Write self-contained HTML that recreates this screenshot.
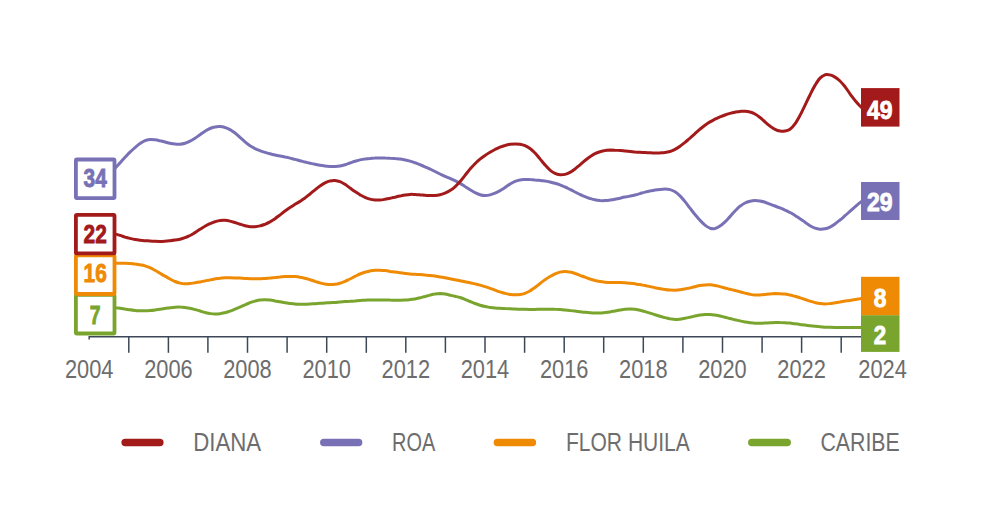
<!DOCTYPE html>
<html><head><meta charset="utf-8"><title>Chart</title>
<style>html,body{margin:0;padding:0;background:#fff;width:1000px;height:530px;overflow:hidden}svg{display:block}</style>
</head><body>
<svg width="1000" height="530" viewBox="0 0 1000 530">
<rect width="1000" height="530" fill="#ffffff"/>
<line x1="89.2" y1="336.8" x2="862" y2="336.8" stroke="#3c4856" stroke-width="1.6"/>
<line x1="89.2" y1="336" x2="89.2" y2="339.5" stroke="#3c4856" stroke-width="1.5"/>
<line x1="128.8" y1="336" x2="128.8" y2="352.8" stroke="#3c4856" stroke-width="1.5"/>
<line x1="168.4" y1="336" x2="168.4" y2="352.8" stroke="#3c4856" stroke-width="1.5"/>
<line x1="207.9" y1="336" x2="207.9" y2="352.8" stroke="#3c4856" stroke-width="1.5"/>
<line x1="247.5" y1="336" x2="247.5" y2="352.8" stroke="#3c4856" stroke-width="1.5"/>
<line x1="287.1" y1="336" x2="287.1" y2="352.8" stroke="#3c4856" stroke-width="1.5"/>
<line x1="326.7" y1="336" x2="326.7" y2="352.8" stroke="#3c4856" stroke-width="1.5"/>
<line x1="366.3" y1="336" x2="366.3" y2="352.8" stroke="#3c4856" stroke-width="1.5"/>
<line x1="405.8" y1="336" x2="405.8" y2="352.8" stroke="#3c4856" stroke-width="1.5"/>
<line x1="445.4" y1="336" x2="445.4" y2="352.8" stroke="#3c4856" stroke-width="1.5"/>
<line x1="485.0" y1="336" x2="485.0" y2="352.8" stroke="#3c4856" stroke-width="1.5"/>
<line x1="524.6" y1="336" x2="524.6" y2="352.8" stroke="#3c4856" stroke-width="1.5"/>
<line x1="564.2" y1="336" x2="564.2" y2="352.8" stroke="#3c4856" stroke-width="1.5"/>
<line x1="603.7" y1="336" x2="603.7" y2="352.8" stroke="#3c4856" stroke-width="1.5"/>
<line x1="643.3" y1="336" x2="643.3" y2="352.8" stroke="#3c4856" stroke-width="1.5"/>
<line x1="682.9" y1="336" x2="682.9" y2="352.8" stroke="#3c4856" stroke-width="1.5"/>
<line x1="722.5" y1="336" x2="722.5" y2="352.8" stroke="#3c4856" stroke-width="1.5"/>
<line x1="762.1" y1="336" x2="762.1" y2="352.8" stroke="#3c4856" stroke-width="1.5"/>
<line x1="801.6" y1="336" x2="801.6" y2="352.8" stroke="#3c4856" stroke-width="1.5"/>
<line x1="841.2" y1="336" x2="841.2" y2="352.8" stroke="#3c4856" stroke-width="1.5"/>
<path d="M100.0,307.5 C100.8,307.5 103.3,307.4 105.0,307.4 C106.7,307.4 108.3,307.4 110.0,307.4 C111.7,307.5 113.3,307.6 115.0,307.7 C116.7,307.8 118.3,308.1 120.0,308.3 C121.7,308.5 123.3,308.8 125.0,309.1 C126.7,309.3 128.3,309.6 130.0,309.8 C131.7,310.1 133.3,310.3 135.0,310.4 C136.7,310.6 138.3,310.7 140.0,310.8 C141.7,310.8 143.3,310.8 145.0,310.8 C146.7,310.7 148.3,310.6 150.0,310.5 C151.7,310.4 153.3,310.2 155.0,309.9 C156.7,309.7 158.3,309.5 160.0,309.2 C161.7,309.0 163.3,308.7 165.0,308.4 C166.7,308.2 168.3,307.9 170.0,307.7 C171.7,307.5 173.3,307.3 175.0,307.2 C176.7,307.1 178.3,307.0 180.0,307.1 C181.7,307.1 183.3,307.2 185.0,307.4 C186.7,307.6 188.3,307.8 190.0,308.2 C191.7,308.5 193.3,309.0 195.0,309.5 C196.7,309.9 198.3,310.5 200.0,311.0 C201.7,311.5 203.3,312.1 205.0,312.5 C206.7,312.9 208.3,313.3 210.0,313.6 C211.7,313.8 213.3,314.0 215.0,314.0 C216.7,314.0 218.3,313.9 220.0,313.7 C221.7,313.5 223.3,313.1 225.0,312.7 C226.7,312.3 228.3,311.8 230.0,311.2 C231.7,310.6 233.3,309.9 235.0,309.2 C236.7,308.5 238.3,307.8 240.0,307.0 C241.7,306.3 243.3,305.5 245.0,304.8 C246.7,304.1 248.3,303.4 250.0,302.7 C251.7,302.1 253.3,301.6 255.0,301.1 C256.7,300.7 258.3,300.3 260.0,300.1 C261.7,299.9 263.3,299.8 265.0,299.8 C266.7,299.8 268.3,299.9 270.0,300.1 C271.7,300.3 273.3,300.6 275.0,300.9 C276.7,301.1 278.3,301.5 280.0,301.8 C281.7,302.1 283.3,302.4 285.0,302.7 C286.7,303.0 288.3,303.3 290.0,303.5 C291.7,303.7 293.3,303.9 295.0,304.0 C296.7,304.2 298.3,304.2 300.0,304.3 C301.7,304.3 303.3,304.3 305.0,304.2 C306.7,304.2 308.3,304.1 310.0,304.0 C311.7,303.9 313.3,303.8 315.0,303.7 C316.7,303.6 318.3,303.4 320.0,303.3 C321.7,303.2 323.3,303.1 325.0,303.0 C326.7,302.9 328.3,302.8 330.0,302.7 C331.7,302.6 333.3,302.5 335.0,302.4 C336.7,302.3 338.3,302.1 340.0,302.0 C341.7,301.9 343.3,301.8 345.0,301.6 C346.7,301.5 348.3,301.4 350.0,301.3 C351.7,301.1 353.3,301.0 355.0,300.9 C356.7,300.7 358.3,300.6 360.0,300.5 C361.7,300.4 363.3,300.3 365.0,300.2 C366.7,300.1 368.3,300.1 370.0,300.0 C371.7,299.9 373.3,299.9 375.0,299.9 C376.7,299.9 378.3,299.9 380.0,299.9 C381.7,299.9 383.3,299.9 385.0,299.9 C386.7,300.0 388.3,300.0 390.0,300.1 C391.7,300.1 393.3,300.2 395.0,300.2 C396.7,300.2 398.3,300.2 400.0,300.2 C401.7,300.2 403.3,300.2 405.0,300.1 C406.7,300.0 408.3,299.8 410.0,299.6 C411.7,299.4 413.3,299.2 415.0,298.9 C416.7,298.6 418.3,298.2 420.0,297.8 C421.7,297.4 423.3,296.9 425.0,296.5 C426.7,296.0 428.3,295.5 430.0,295.1 C431.7,294.7 433.3,294.3 435.0,294.1 C436.7,293.8 438.3,293.6 440.0,293.6 C441.7,293.7 443.3,293.8 445.0,294.1 C446.7,294.4 448.3,294.8 450.0,295.2 C451.7,295.6 453.3,296.0 455.0,296.3 C456.7,296.7 458.3,297.0 460.0,297.5 C461.7,298.0 463.3,298.6 465.0,299.3 C466.7,300.0 468.3,300.8 470.0,301.5 C471.7,302.2 473.3,302.9 475.0,303.5 C476.7,304.2 478.3,304.7 480.0,305.2 C481.7,305.7 483.3,306.1 485.0,306.5 C486.7,306.9 488.3,307.1 490.0,307.4 C491.7,307.6 493.3,307.8 495.0,307.9 C496.7,308.1 498.3,308.2 500.0,308.3 C501.7,308.4 503.3,308.5 505.0,308.6 C506.7,308.6 508.3,308.7 510.0,308.8 C511.7,308.9 513.3,309.0 515.0,309.0 C516.7,309.1 518.3,309.2 520.0,309.2 C521.7,309.3 523.3,309.3 525.0,309.3 C526.7,309.4 528.3,309.4 530.0,309.4 C531.7,309.4 533.3,309.4 535.0,309.4 C536.7,309.4 538.3,309.3 540.0,309.3 C541.7,309.3 543.3,309.2 545.0,309.2 C546.7,309.2 548.3,309.2 550.0,309.2 C551.7,309.2 553.3,309.2 555.0,309.3 C556.7,309.3 558.3,309.4 560.0,309.5 C561.7,309.6 563.3,309.8 565.0,309.9 C566.7,310.1 568.3,310.3 570.0,310.5 C571.7,310.6 573.3,310.9 575.0,311.1 C576.7,311.3 578.3,311.5 580.0,311.7 C581.7,311.9 583.3,312.2 585.0,312.3 C586.7,312.5 588.3,312.7 590.0,312.8 C591.7,312.9 593.3,313.0 595.0,313.0 C596.7,313.0 598.3,313.0 600.0,312.9 C601.7,312.9 603.3,312.7 605.0,312.6 C606.7,312.4 608.3,312.2 610.0,311.9 C611.7,311.7 613.3,311.3 615.0,311.0 C616.7,310.7 618.3,310.4 620.0,310.1 C621.7,309.8 623.3,309.5 625.0,309.3 C626.7,309.1 628.3,309.0 630.0,309.0 C631.7,309.0 633.3,309.1 635.0,309.3 C636.7,309.6 638.3,309.9 640.0,310.3 C641.7,310.7 643.3,311.1 645.0,311.6 C646.7,312.1 648.3,312.6 650.0,313.1 C651.7,313.6 653.3,314.2 655.0,314.7 C656.7,315.2 658.3,315.7 660.0,316.2 C661.7,316.7 663.3,317.2 665.0,317.6 C666.7,318.0 668.3,318.5 670.0,318.8 C671.7,319.0 673.3,319.3 675.0,319.4 C676.7,319.4 678.3,319.3 680.0,319.2 C681.7,319.0 683.3,318.7 685.0,318.3 C686.7,318.0 688.3,317.6 690.0,317.2 C691.7,316.8 693.3,316.4 695.0,316.0 C696.7,315.7 698.3,315.4 700.0,315.1 C701.7,314.9 703.3,314.7 705.0,314.6 C706.7,314.5 708.3,314.4 710.0,314.5 C711.7,314.6 713.3,314.8 715.0,315.0 C716.7,315.3 718.3,315.6 720.0,316.0 C721.7,316.4 723.3,316.8 725.0,317.2 C726.7,317.6 728.3,318.1 730.0,318.5 C731.7,318.9 733.3,319.4 735.0,319.8 C736.7,320.2 738.3,320.5 740.0,320.9 C741.7,321.3 743.3,321.6 745.0,321.9 C746.7,322.2 748.3,322.5 750.0,322.8 C751.7,323.0 753.3,323.2 755.0,323.3 C756.7,323.3 758.3,323.3 760.0,323.3 C761.7,323.3 763.3,323.2 765.0,323.1 C766.7,323.0 768.3,322.9 770.0,322.8 C771.7,322.7 773.3,322.6 775.0,322.5 C776.7,322.5 778.3,322.4 780.0,322.5 C781.7,322.5 783.3,322.6 785.0,322.7 C786.7,322.8 788.3,323.0 790.0,323.1 C791.7,323.3 793.3,323.6 795.0,323.8 C796.7,324.0 798.3,324.2 800.0,324.4 C801.7,324.6 803.3,324.9 805.0,325.1 C806.7,325.3 808.3,325.5 810.0,325.7 C811.7,325.9 813.3,326.1 815.0,326.3 C816.7,326.5 818.3,326.7 820.0,326.8 C821.7,326.9 823.3,327.1 825.0,327.2 C826.7,327.2 828.3,327.3 830.0,327.3 C831.7,327.4 833.3,327.4 835.0,327.4 C836.7,327.4 838.3,327.4 840.0,327.4 C841.7,327.4 843.3,327.4 845.0,327.4 C846.7,327.4 848.3,327.4 850.0,327.4 C851.7,327.4 853.3,327.4 855.0,327.4 C856.7,327.4 858.3,327.4 860.0,327.4 C861.7,327.4 863.3,327.4 865.0,327.4 C866.7,327.4 868.3,327.4 870.0,327.4 C871.7,327.4 874.2,327.4 875.0,327.4" fill="none" stroke="#79a52e" stroke-width="3" stroke-linecap="round" stroke-linejoin="round"/>
<path d="M100.0,263.3 C100.8,263.3 103.3,263.3 105.0,263.3 C106.7,263.3 108.3,263.3 110.0,263.3 C111.7,263.3 113.3,263.3 115.0,263.3 C116.7,263.3 118.3,263.3 120.0,263.2 C121.7,263.2 123.3,263.2 125.0,263.2 C126.7,263.2 128.3,263.3 130.0,263.4 C131.7,263.5 133.3,263.6 135.0,263.9 C136.7,264.1 138.3,264.3 140.0,264.7 C141.7,265.0 143.3,265.3 145.0,265.9 C146.7,266.4 148.3,266.9 150.0,267.7 C151.7,268.4 153.3,269.4 155.0,270.3 C156.7,271.3 158.3,272.3 160.0,273.3 C161.7,274.3 163.3,275.3 165.0,276.2 C166.7,277.1 168.3,278.1 170.0,279.0 C171.7,279.9 173.3,280.8 175.0,281.5 C176.7,282.2 178.3,282.7 180.0,283.1 C181.7,283.5 183.3,283.7 185.0,283.8 C186.7,283.8 188.3,283.7 190.0,283.5 C191.7,283.4 193.3,283.0 195.0,282.8 C196.7,282.5 198.3,282.2 200.0,281.9 C201.7,281.6 203.3,281.3 205.0,280.9 C206.7,280.6 208.3,280.2 210.0,279.9 C211.7,279.5 213.3,279.2 215.0,278.9 C216.7,278.6 218.3,278.3 220.0,278.2 C221.7,278.0 223.3,277.9 225.0,277.8 C226.7,277.7 228.3,277.7 230.0,277.7 C231.7,277.7 233.3,277.8 235.0,277.9 C236.7,277.9 238.3,278.0 240.0,278.1 C241.7,278.2 243.3,278.3 245.0,278.4 C246.7,278.5 248.3,278.6 250.0,278.7 C251.7,278.7 253.3,278.8 255.0,278.8 C256.7,278.8 258.3,278.8 260.0,278.7 C261.7,278.7 263.3,278.5 265.0,278.4 C266.7,278.3 268.3,278.1 270.0,278.0 C271.7,277.8 273.3,277.6 275.0,277.5 C276.7,277.3 278.3,277.1 280.0,277.0 C281.7,276.8 283.3,276.7 285.0,276.6 C286.7,276.5 288.3,276.4 290.0,276.5 C291.7,276.5 293.3,276.5 295.0,276.6 C296.7,276.8 298.3,277.0 300.0,277.3 C301.7,277.5 303.3,277.9 305.0,278.3 C306.7,278.7 308.3,279.2 310.0,279.7 C311.7,280.2 313.3,280.8 315.0,281.4 C316.7,281.9 318.3,282.5 320.0,282.9 C321.7,283.4 323.3,283.8 325.0,284.1 C326.7,284.3 328.3,284.6 330.0,284.6 C331.7,284.6 333.3,284.6 335.0,284.3 C336.7,284.1 338.3,283.7 340.0,283.2 C341.7,282.8 343.3,282.1 345.0,281.4 C346.7,280.7 348.3,279.8 350.0,279.0 C351.7,278.2 353.3,277.2 355.0,276.4 C356.7,275.6 358.3,274.7 360.0,274.0 C361.7,273.3 363.3,272.7 365.0,272.2 C366.7,271.7 368.3,271.2 370.0,270.9 C371.7,270.6 373.3,270.3 375.0,270.2 C376.7,270.1 378.3,270.1 380.0,270.2 C381.7,270.3 383.3,270.5 385.0,270.6 C386.7,270.8 388.3,271.1 390.0,271.4 C391.7,271.6 393.3,271.9 395.0,272.1 C396.7,272.4 398.3,272.6 400.0,272.8 C401.7,273.0 403.3,273.2 405.0,273.4 C406.7,273.6 408.3,273.8 410.0,273.9 C411.7,274.1 413.3,274.2 415.0,274.3 C416.7,274.4 418.3,274.5 420.0,274.6 C421.7,274.7 423.3,274.8 425.0,275.0 C426.7,275.1 428.3,275.3 430.0,275.5 C431.7,275.7 433.3,275.9 435.0,276.1 C436.7,276.4 438.3,276.6 440.0,276.9 C441.7,277.2 443.3,277.5 445.0,277.8 C446.7,278.1 448.3,278.4 450.0,278.7 C451.7,279.1 453.3,279.4 455.0,279.7 C456.7,280.0 458.3,280.4 460.0,280.7 C461.7,281.1 463.3,281.4 465.0,281.8 C466.7,282.1 468.3,282.5 470.0,282.8 C471.7,283.2 473.3,283.5 475.0,283.9 C476.7,284.3 478.3,284.7 480.0,285.1 C481.7,285.6 483.3,286.1 485.0,286.6 C486.7,287.1 488.3,287.7 490.0,288.3 C491.7,288.9 493.3,289.5 495.0,290.1 C496.7,290.7 498.3,291.4 500.0,291.9 C501.7,292.4 503.3,293.0 505.0,293.4 C506.7,293.8 508.3,294.1 510.0,294.4 C511.7,294.6 513.3,294.8 515.0,294.8 C516.7,294.8 518.3,294.8 520.0,294.5 C521.7,294.3 523.3,293.9 525.0,293.3 C526.7,292.7 528.3,291.8 530.0,290.9 C531.7,289.9 533.3,288.6 535.0,287.4 C536.7,286.2 538.3,284.8 540.0,283.5 C541.7,282.2 543.3,280.9 545.0,279.8 C546.7,278.6 548.3,277.5 550.0,276.5 C551.7,275.5 553.3,274.6 555.0,273.8 C556.7,273.1 558.3,272.5 560.0,272.1 C561.7,271.7 563.3,271.5 565.0,271.5 C566.7,271.5 568.3,271.7 570.0,272.1 C571.7,272.4 573.3,272.9 575.0,273.5 C576.7,274.0 578.3,274.6 580.0,275.3 C581.7,275.9 583.3,276.6 585.0,277.2 C586.7,277.8 588.3,278.4 590.0,279.0 C591.7,279.5 593.3,280.0 595.0,280.5 C596.7,280.9 598.3,281.2 600.0,281.5 C601.7,281.8 603.3,282.0 605.0,282.2 C606.7,282.3 608.3,282.4 610.0,282.4 C611.7,282.5 613.3,282.5 615.0,282.5 C616.7,282.5 618.3,282.5 620.0,282.5 C621.7,282.5 623.3,282.6 625.0,282.7 C626.7,282.8 628.3,283.0 630.0,283.2 C631.7,283.4 633.3,283.6 635.0,283.8 C636.7,284.1 638.3,284.4 640.0,284.6 C641.7,284.9 643.3,285.3 645.0,285.6 C646.7,285.9 648.3,286.3 650.0,286.6 C651.7,287.0 653.3,287.3 655.0,287.7 C656.7,288.0 658.3,288.4 660.0,288.7 C661.7,289.0 663.3,289.3 665.0,289.5 C666.7,289.8 668.3,290.0 670.0,290.1 C671.7,290.2 673.3,290.2 675.0,290.2 C676.7,290.1 678.3,290.0 680.0,289.7 C681.7,289.5 683.3,289.2 685.0,288.9 C686.7,288.6 688.3,288.2 690.0,287.9 C691.7,287.5 693.3,287.1 695.0,286.7 C696.7,286.3 698.3,285.9 700.0,285.6 C701.7,285.3 703.3,285.1 705.0,284.9 C706.7,284.8 708.3,284.7 710.0,284.8 C711.7,284.9 713.3,285.1 715.0,285.4 C716.7,285.7 718.3,286.2 720.0,286.6 C721.7,287.0 723.3,287.5 725.0,288.0 C726.7,288.4 728.3,288.9 730.0,289.3 C731.7,289.7 733.3,290.1 735.0,290.5 C736.7,290.9 738.3,291.3 740.0,291.7 C741.7,292.1 743.3,292.6 745.0,293.1 C746.7,293.5 748.3,294.0 750.0,294.3 C751.7,294.6 753.3,294.9 755.0,295.0 C756.7,295.1 758.3,295.0 760.0,294.9 C761.7,294.8 763.3,294.6 765.0,294.4 C766.7,294.3 768.3,294.1 770.0,293.9 C771.7,293.8 773.3,293.7 775.0,293.6 C776.7,293.6 778.3,293.6 780.0,293.7 C781.7,293.8 783.3,293.9 785.0,294.1 C786.7,294.4 788.3,294.7 790.0,295.1 C791.7,295.4 793.3,295.9 795.0,296.3 C796.7,296.8 798.3,297.3 800.0,297.8 C801.7,298.4 803.3,298.9 805.0,299.5 C806.7,300.0 808.3,300.6 810.0,301.1 C811.7,301.6 813.3,302.2 815.0,302.6 C816.7,303.0 818.3,303.4 820.0,303.6 C821.7,303.9 823.3,304.0 825.0,304.0 C826.7,304.0 828.3,303.8 830.0,303.6 C831.7,303.4 833.3,303.0 835.0,302.8 C836.7,302.5 838.3,302.1 840.0,301.9 C841.7,301.6 843.3,301.4 845.0,301.1 C846.7,300.9 848.3,300.7 850.0,300.4 C851.7,300.1 853.3,299.9 855.0,299.6 C856.7,299.3 858.3,299.0 860.0,298.8 C861.7,298.5 863.3,298.3 865.0,298.1 C866.7,297.9 868.3,297.7 870.0,297.5 C871.7,297.3 874.2,297.1 875.0,297.0" fill="none" stroke="#ef8a05" stroke-width="3" stroke-linecap="round" stroke-linejoin="round"/>
<path d="M100.0,181.0 C100.8,180.3 103.3,178.4 105.0,177.1 C106.7,175.7 108.3,174.4 110.0,172.9 C111.7,171.4 113.3,169.9 115.0,168.2 C116.7,166.6 118.3,164.7 120.0,162.9 C121.7,161.1 123.3,159.1 125.0,157.3 C126.7,155.5 128.3,153.7 130.0,152.1 C131.7,150.5 133.3,149.0 135.0,147.6 C136.7,146.1 138.3,144.7 140.0,143.6 C141.7,142.4 143.3,141.3 145.0,140.6 C146.7,139.9 148.3,139.7 150.0,139.5 C151.7,139.4 153.3,139.6 155.0,139.8 C156.7,140.0 158.3,140.4 160.0,140.8 C161.7,141.1 163.3,141.6 165.0,142.0 C166.7,142.4 168.3,142.9 170.0,143.2 C171.7,143.6 173.3,143.9 175.0,144.1 C176.7,144.3 178.3,144.4 180.0,144.2 C181.7,144.1 183.3,143.8 185.0,143.3 C186.7,142.8 188.3,142.1 190.0,141.2 C191.7,140.4 193.3,139.4 195.0,138.3 C196.7,137.2 198.3,135.9 200.0,134.7 C201.7,133.5 203.3,132.2 205.0,131.2 C206.7,130.2 208.3,129.2 210.0,128.5 C211.7,127.8 213.3,127.3 215.0,127.0 C216.7,126.6 218.3,126.5 220.0,126.6 C221.7,126.7 223.3,127.0 225.0,127.5 C226.7,128.0 228.3,128.7 230.0,129.6 C231.7,130.5 233.3,131.7 235.0,133.0 C236.7,134.3 238.3,135.9 240.0,137.4 C241.7,138.9 243.3,140.5 245.0,141.9 C246.7,143.3 248.3,144.7 250.0,145.8 C251.7,146.9 253.3,147.7 255.0,148.6 C256.7,149.4 258.3,150.0 260.0,150.7 C261.7,151.3 263.3,151.9 265.0,152.4 C266.7,152.9 268.3,153.4 270.0,153.8 C271.7,154.3 273.3,154.7 275.0,155.0 C276.7,155.4 278.3,155.7 280.0,156.0 C281.7,156.3 283.3,156.6 285.0,157.0 C286.7,157.3 288.3,157.7 290.0,158.1 C291.7,158.5 293.3,159.0 295.0,159.4 C296.7,159.8 298.3,160.3 300.0,160.7 C301.7,161.1 303.3,161.6 305.0,162.0 C306.7,162.4 308.3,162.8 310.0,163.2 C311.7,163.6 313.3,164.0 315.0,164.3 C316.7,164.7 318.3,165.0 320.0,165.3 C321.7,165.6 323.3,165.8 325.0,166.0 C326.7,166.2 328.3,166.3 330.0,166.4 C331.7,166.5 333.3,166.6 335.0,166.5 C336.7,166.4 338.3,166.3 340.0,166.0 C341.7,165.7 343.3,165.3 345.0,164.8 C346.7,164.3 348.3,163.6 350.0,163.0 C351.7,162.5 353.3,161.8 355.0,161.3 C356.7,160.8 358.3,160.3 360.0,159.9 C361.7,159.5 363.3,159.2 365.0,159.0 C366.7,158.7 368.3,158.5 370.0,158.4 C371.7,158.2 373.3,158.1 375.0,158.1 C376.7,158.0 378.3,158.0 380.0,158.0 C381.7,158.0 383.3,158.0 385.0,158.1 C386.7,158.1 388.3,158.2 390.0,158.3 C391.7,158.3 393.3,158.4 395.0,158.6 C396.7,158.7 398.3,158.9 400.0,159.1 C401.7,159.3 403.3,159.6 405.0,159.9 C406.7,160.3 408.3,160.7 410.0,161.1 C411.7,161.6 413.3,162.2 415.0,162.8 C416.7,163.3 418.3,164.0 420.0,164.7 C421.7,165.4 423.3,166.1 425.0,166.8 C426.7,167.5 428.3,168.3 430.0,169.0 C431.7,169.8 433.3,170.7 435.0,171.5 C436.7,172.3 438.3,173.2 440.0,174.0 C441.7,174.8 443.3,175.6 445.0,176.3 C446.7,177.0 448.3,177.7 450.0,178.4 C451.7,179.1 453.3,179.9 455.0,180.7 C456.7,181.5 458.3,182.4 460.0,183.4 C461.7,184.3 463.3,185.4 465.0,186.5 C466.7,187.5 468.3,188.6 470.0,189.7 C471.7,190.7 473.3,191.7 475.0,192.6 C476.7,193.4 478.3,194.2 480.0,194.7 C481.7,195.2 483.3,195.5 485.0,195.5 C486.7,195.6 488.3,195.3 490.0,194.9 C491.7,194.5 493.3,193.9 495.0,193.2 C496.7,192.5 498.3,191.6 500.0,190.7 C501.7,189.7 503.3,188.6 505.0,187.5 C506.7,186.4 508.3,185.1 510.0,184.1 C511.7,183.0 513.3,182.0 515.0,181.3 C516.7,180.6 518.3,180.2 520.0,179.9 C521.7,179.6 523.3,179.6 525.0,179.5 C526.7,179.4 528.3,179.5 530.0,179.6 C531.7,179.6 533.3,179.7 535.0,179.9 C536.7,180.0 538.3,180.2 540.0,180.4 C541.7,180.6 543.3,180.8 545.0,181.1 C546.7,181.3 548.3,181.6 550.0,182.0 C551.7,182.4 553.3,182.8 555.0,183.3 C556.7,183.8 558.3,184.3 560.0,184.9 C561.7,185.5 563.3,186.2 565.0,187.0 C566.7,187.7 568.3,188.6 570.0,189.4 C571.7,190.2 573.3,191.1 575.0,192.0 C576.7,192.8 578.3,193.7 580.0,194.5 C581.7,195.2 583.3,196.0 585.0,196.6 C586.7,197.3 588.3,197.9 590.0,198.5 C591.7,199.0 593.3,199.5 595.0,199.8 C596.7,200.2 598.3,200.4 600.0,200.6 C601.7,200.7 603.3,200.7 605.0,200.6 C606.7,200.5 608.3,200.3 610.0,200.1 C611.7,199.9 613.3,199.6 615.0,199.2 C616.7,198.9 618.3,198.5 620.0,198.2 C621.7,197.8 623.3,197.4 625.0,197.1 C626.7,196.8 628.3,196.5 630.0,196.1 C631.7,195.8 633.3,195.4 635.0,195.0 C636.7,194.6 638.3,194.1 640.0,193.6 C641.7,193.1 643.3,192.5 645.0,192.1 C646.7,191.6 648.3,191.2 650.0,190.9 C651.7,190.5 653.3,190.4 655.0,190.1 C656.7,189.9 658.3,189.7 660.0,189.5 C661.7,189.3 663.3,189.1 665.0,189.1 C666.7,189.1 668.3,189.2 670.0,189.6 C671.7,190.1 673.3,190.8 675.0,191.8 C676.7,192.9 678.3,194.3 680.0,195.9 C681.7,197.6 683.3,199.6 685.0,201.6 C686.7,203.7 688.3,206.0 690.0,208.1 C691.7,210.3 693.3,212.5 695.0,214.5 C696.7,216.5 698.3,218.6 700.0,220.3 C701.7,222.1 703.3,223.8 705.0,225.1 C706.7,226.4 708.3,227.6 710.0,228.2 C711.7,228.7 713.3,228.8 715.0,228.5 C716.7,228.1 718.3,227.2 720.0,226.1 C721.7,225.0 723.3,223.5 725.0,221.9 C726.7,220.3 728.3,218.4 730.0,216.6 C731.7,214.8 733.3,212.7 735.0,211.0 C736.7,209.3 738.3,207.6 740.0,206.2 C741.7,204.9 743.3,203.8 745.0,203.0 C746.7,202.1 748.3,201.6 750.0,201.2 C751.7,200.8 753.3,200.6 755.0,200.6 C756.7,200.6 758.3,200.7 760.0,200.9 C761.7,201.2 763.3,201.7 765.0,202.2 C766.7,202.7 768.3,203.5 770.0,204.1 C771.7,204.8 773.3,205.4 775.0,206.0 C776.7,206.7 778.3,207.3 780.0,207.9 C781.7,208.6 783.3,209.3 785.0,210.1 C786.7,210.8 788.3,211.7 790.0,212.5 C791.7,213.4 793.3,214.4 795.0,215.4 C796.7,216.5 798.3,217.6 800.0,218.7 C801.7,219.8 803.3,221.0 805.0,222.2 C806.7,223.4 808.3,224.7 810.0,225.7 C811.7,226.7 813.3,227.6 815.0,228.2 C816.7,228.8 818.3,229.1 820.0,229.2 C821.7,229.3 823.3,229.2 825.0,228.8 C826.7,228.5 828.3,227.9 830.0,227.1 C831.7,226.3 833.3,225.2 835.0,224.0 C836.7,222.8 838.3,221.4 840.0,220.0 C841.7,218.7 843.3,217.2 845.0,215.7 C846.7,214.3 848.3,212.8 850.0,211.3 C851.7,209.8 853.3,208.3 855.0,206.9 C856.7,205.4 858.3,203.9 860.0,202.6 C861.7,201.3 863.3,200.1 865.0,199.1 C866.7,198.2 868.3,197.5 870.0,196.8 C871.7,196.1 874.2,195.3 875.0,195.0" fill="none" stroke="#7871b5" stroke-width="3" stroke-linecap="round" stroke-linejoin="round"/>
<path d="M100.0,232.0 C100.8,232.1 103.3,232.2 105.0,232.3 C106.7,232.5 108.3,232.6 110.0,232.9 C111.7,233.2 113.3,233.5 115.0,233.9 C116.7,234.3 118.3,234.9 120.0,235.4 C121.7,235.9 123.3,236.6 125.0,237.1 C126.7,237.6 128.3,238.0 130.0,238.4 C131.7,238.8 133.3,239.2 135.0,239.5 C136.7,239.8 138.3,240.0 140.0,240.2 C141.7,240.4 143.3,240.5 145.0,240.7 C146.7,240.8 148.3,240.9 150.0,241.0 C151.7,241.1 153.3,241.2 155.0,241.3 C156.7,241.4 158.3,241.4 160.0,241.4 C161.7,241.4 163.3,241.3 165.0,241.2 C166.7,241.1 168.3,240.9 170.0,240.7 C171.7,240.6 173.3,240.4 175.0,240.1 C176.7,239.9 178.3,239.6 180.0,239.2 C181.7,238.8 183.3,238.3 185.0,237.7 C186.7,237.1 188.3,236.3 190.0,235.5 C191.7,234.6 193.3,233.6 195.0,232.6 C196.7,231.6 198.3,230.4 200.0,229.3 C201.7,228.3 203.3,227.2 205.0,226.2 C206.7,225.3 208.3,224.4 210.0,223.7 C211.7,223.0 213.3,222.3 215.0,221.8 C216.7,221.3 218.3,220.8 220.0,220.6 C221.7,220.3 223.3,220.2 225.0,220.3 C226.7,220.4 228.3,220.7 230.0,221.1 C231.7,221.5 233.3,222.0 235.0,222.5 C236.7,223.1 238.3,223.7 240.0,224.2 C241.7,224.8 243.3,225.4 245.0,225.8 C246.7,226.2 248.3,226.5 250.0,226.7 C251.7,226.8 253.3,226.9 255.0,226.8 C256.7,226.6 258.3,226.3 260.0,225.9 C261.7,225.5 263.3,224.9 265.0,224.3 C266.7,223.6 268.3,222.8 270.0,221.9 C271.7,221.0 273.3,219.8 275.0,218.7 C276.7,217.5 278.3,216.1 280.0,214.9 C281.7,213.6 283.3,212.2 285.0,211.0 C286.7,209.8 288.3,208.6 290.0,207.5 C291.7,206.4 293.3,205.4 295.0,204.3 C296.7,203.3 298.3,202.4 300.0,201.4 C301.7,200.3 303.3,199.2 305.0,198.0 C306.7,196.8 308.3,195.4 310.0,194.0 C311.7,192.7 313.3,191.2 315.0,189.8 C316.7,188.4 318.3,187.1 320.0,185.9 C321.7,184.7 323.3,183.6 325.0,182.8 C326.7,182.0 328.3,181.3 330.0,180.9 C331.7,180.6 333.3,180.4 335.0,180.5 C336.7,180.7 338.3,181.1 340.0,181.7 C341.7,182.3 343.3,183.3 345.0,184.3 C346.7,185.4 348.3,186.8 350.0,188.0 C351.7,189.2 353.3,190.5 355.0,191.6 C356.7,192.8 358.3,193.8 360.0,194.8 C361.7,195.7 363.3,196.6 365.0,197.3 C366.7,198.0 368.3,198.7 370.0,199.1 C371.7,199.6 373.3,199.8 375.0,200.0 C376.7,200.1 378.3,200.1 380.0,200.0 C381.7,199.9 383.3,199.6 385.0,199.3 C386.7,199.0 388.3,198.6 390.0,198.3 C391.7,197.9 393.3,197.5 395.0,197.2 C396.7,196.8 398.3,196.4 400.0,196.1 C401.7,195.7 403.3,195.4 405.0,195.1 C406.7,194.8 408.3,194.5 410.0,194.4 C411.7,194.3 413.3,194.4 415.0,194.4 C416.7,194.5 418.3,194.7 420.0,194.9 C421.7,195.0 423.3,195.2 425.0,195.3 C426.7,195.4 428.3,195.6 430.0,195.6 C431.7,195.6 433.3,195.6 435.0,195.5 C436.7,195.4 438.3,195.2 440.0,194.8 C441.7,194.5 443.3,193.9 445.0,193.2 C446.7,192.5 448.3,191.7 450.0,190.6 C451.7,189.5 453.3,188.3 455.0,186.8 C456.7,185.3 458.3,183.5 460.0,181.6 C461.7,179.8 463.3,177.5 465.0,175.4 C466.7,173.3 468.3,171.1 470.0,169.1 C471.7,167.2 473.3,165.4 475.0,163.7 C476.7,162.0 478.3,160.6 480.0,159.2 C481.7,157.8 483.3,156.5 485.0,155.4 C486.7,154.2 488.3,153.2 490.0,152.2 C491.7,151.2 493.3,150.3 495.0,149.5 C496.7,148.7 498.3,147.9 500.0,147.2 C501.7,146.5 503.3,145.9 505.0,145.5 C506.7,145.0 508.3,144.6 510.0,144.3 C511.7,144.1 513.3,143.9 515.0,143.9 C516.7,143.9 518.3,144.0 520.0,144.3 C521.7,144.6 523.3,145.0 525.0,145.7 C526.7,146.4 528.3,147.3 530.0,148.5 C531.7,149.7 533.3,151.3 535.0,153.0 C536.7,154.8 538.3,156.9 540.0,158.9 C541.7,160.9 543.3,163.1 545.0,164.9 C546.7,166.8 548.3,168.6 550.0,170.1 C551.7,171.5 553.3,172.7 555.0,173.4 C556.7,174.2 558.3,174.6 560.0,174.8 C561.7,174.9 563.3,174.8 565.0,174.4 C566.7,174.0 568.3,173.3 570.0,172.4 C571.7,171.5 573.3,170.3 575.0,169.0 C576.7,167.7 578.3,166.2 580.0,164.8 C581.7,163.4 583.3,161.9 585.0,160.5 C586.7,159.2 588.3,157.8 590.0,156.7 C591.7,155.6 593.3,154.5 595.0,153.7 C596.7,152.9 598.3,152.2 600.0,151.7 C601.7,151.2 603.3,150.8 605.0,150.6 C606.7,150.3 608.3,150.2 610.0,150.1 C611.7,150.1 613.3,150.1 615.0,150.2 C616.7,150.2 618.3,150.4 620.0,150.5 C621.7,150.7 623.3,150.9 625.0,151.0 C626.7,151.2 628.3,151.4 630.0,151.5 C631.7,151.7 633.3,151.8 635.0,152.0 C636.7,152.1 638.3,152.2 640.0,152.3 C641.7,152.4 643.3,152.5 645.0,152.6 C646.7,152.7 648.3,152.7 650.0,152.8 C651.7,152.9 653.3,153.0 655.0,153.0 C656.7,153.0 658.3,153.0 660.0,152.9 C661.7,152.8 663.3,152.8 665.0,152.5 C666.7,152.3 668.3,152.0 670.0,151.5 C671.7,151.0 673.3,150.3 675.0,149.4 C676.7,148.5 678.3,147.4 680.0,146.2 C681.7,145.1 683.3,143.7 685.0,142.4 C686.7,141.0 688.3,139.5 690.0,138.1 C691.7,136.6 693.3,135.1 695.0,133.6 C696.7,132.1 698.3,130.6 700.0,129.2 C701.7,127.8 703.3,126.4 705.0,125.2 C706.7,124.0 708.3,122.9 710.0,121.9 C711.7,120.9 713.3,120.1 715.0,119.2 C716.7,118.4 718.3,117.6 720.0,116.9 C721.7,116.2 723.3,115.6 725.0,115.0 C726.7,114.4 728.3,113.9 730.0,113.4 C731.7,113.0 733.3,112.6 735.0,112.2 C736.7,111.9 738.3,111.6 740.0,111.4 C741.7,111.3 743.3,111.1 745.0,111.2 C746.7,111.3 748.3,111.5 750.0,112.0 C751.7,112.4 753.3,113.1 755.0,114.0 C756.7,115.0 758.3,116.2 760.0,117.5 C761.7,118.8 763.3,120.4 765.0,121.9 C766.7,123.3 768.3,124.9 770.0,126.1 C771.7,127.4 773.3,128.5 775.0,129.3 C776.7,130.1 778.3,130.7 780.0,131.0 C781.7,131.3 783.3,131.4 785.0,131.1 C786.7,130.8 788.3,130.4 790.0,129.2 C791.7,128.0 793.3,126.1 795.0,123.8 C796.7,121.5 798.3,118.5 800.0,115.4 C801.7,112.3 803.3,108.7 805.0,105.3 C806.7,101.9 808.3,98.3 810.0,95.0 C811.7,91.6 813.3,88.2 815.0,85.4 C816.7,82.6 818.3,79.8 820.0,78.1 C821.7,76.3 823.3,75.4 825.0,74.8 C826.7,74.3 828.3,74.6 830.0,74.9 C831.7,75.3 833.3,76.1 835.0,77.1 C836.7,78.1 838.3,79.4 840.0,81.0 C841.7,82.5 843.3,84.6 845.0,86.7 C846.7,88.8 848.3,91.5 850.0,93.8 C851.7,96.0 853.3,98.3 855.0,100.4 C856.7,102.4 858.3,104.3 860.0,106.0 C861.7,107.7 863.3,109.2 865.0,110.7 C866.7,112.1 868.3,113.3 870.0,114.5 C871.7,115.8 874.2,117.4 875.0,118.0" fill="none" stroke="#a31a1a" stroke-width="3" stroke-linecap="round" stroke-linejoin="round"/>
<rect x="75.90" y="294.90" width="38.60" height="38.60" rx="1" fill="#ffffff" stroke="#79a52e" stroke-width="3.8"/>
<rect x="75.90" y="255.40" width="38.60" height="38.60" rx="1" fill="#ffffff" stroke="#ef8a05" stroke-width="3.8"/>
<rect x="75.90" y="214.80" width="38.60" height="38.60" rx="1" fill="#ffffff" stroke="#a31a1a" stroke-width="3.8"/>
<rect x="75.90" y="159.50" width="38.60" height="38.60" rx="1" fill="#ffffff" stroke="#7871b5" stroke-width="3.8"/>
<text x="95.2" y="187.4" text-anchor="middle" font-family="'Liberation Sans', Arial, sans-serif" font-weight="bold" font-size="26.5" fill="#7871b5" stroke="#7871b5" stroke-width="0.9" textLength="23.2" lengthAdjust="spacingAndGlyphs">34</text>
<text x="95.2" y="242.9" text-anchor="middle" font-family="'Liberation Sans', Arial, sans-serif" font-weight="bold" font-size="26.5" fill="#a31a1a" stroke="#a31a1a" stroke-width="0.9" textLength="23.2" lengthAdjust="spacingAndGlyphs">22</text>
<text x="95.2" y="282.3" text-anchor="middle" font-family="'Liberation Sans', Arial, sans-serif" font-weight="bold" font-size="26.5" fill="#ef8a05" stroke="#ef8a05" stroke-width="0.9" textLength="23.2" lengthAdjust="spacingAndGlyphs">16</text>
<text x="95.2" y="324.0" text-anchor="middle" font-family="'Liberation Sans', Arial, sans-serif" font-weight="bold" font-size="26.5" fill="#79a52e" stroke="#79a52e" stroke-width="0.9" textLength="10.8" lengthAdjust="spacingAndGlyphs">7</text>
<rect x="861" y="88.1" width="38.5" height="38.5" fill="#a31a1a"/>
<rect x="861" y="182" width="38.5" height="38" fill="#7871b5"/>
<rect x="861" y="276.8" width="38.5" height="38.8" fill="#ef8a05"/>
<rect x="861" y="315.3" width="38.5" height="36.6" fill="#79a52e"/>
<text x="879.8" y="119.0" text-anchor="middle" font-family="'Liberation Sans', Arial, sans-serif" font-weight="bold" font-size="26.5" fill="#ffffff" stroke="#ffffff" stroke-width="0.9" textLength="25.6" lengthAdjust="spacingAndGlyphs">49</text>
<text x="879.8" y="211.3" text-anchor="middle" font-family="'Liberation Sans', Arial, sans-serif" font-weight="bold" font-size="26.5" fill="#ffffff" stroke="#ffffff" stroke-width="0.9" textLength="25.6" lengthAdjust="spacingAndGlyphs">29</text>
<text x="880.1" y="306.8" text-anchor="middle" font-family="'Liberation Sans', Arial, sans-serif" font-weight="bold" font-size="26.5" fill="#ffffff" stroke="#ffffff" stroke-width="0.9" textLength="12.7" lengthAdjust="spacingAndGlyphs">8</text>
<text x="880.0" y="343.6" text-anchor="middle" font-family="'Liberation Sans', Arial, sans-serif" font-weight="bold" font-size="26.5" fill="#ffffff" stroke="#ffffff" stroke-width="0.9" textLength="12.4" lengthAdjust="spacingAndGlyphs">2</text>
<text x="89.2" y="378.4" text-anchor="middle" font-family="'Liberation Sans', Arial, sans-serif" font-size="26" fill="#6d6d6d" textLength="48.5" lengthAdjust="spacingAndGlyphs">2004</text>
<text x="168.4" y="378.4" text-anchor="middle" font-family="'Liberation Sans', Arial, sans-serif" font-size="26" fill="#6d6d6d" textLength="48.5" lengthAdjust="spacingAndGlyphs">2006</text>
<text x="247.5" y="378.4" text-anchor="middle" font-family="'Liberation Sans', Arial, sans-serif" font-size="26" fill="#6d6d6d" textLength="48.5" lengthAdjust="spacingAndGlyphs">2008</text>
<text x="326.7" y="378.4" text-anchor="middle" font-family="'Liberation Sans', Arial, sans-serif" font-size="26" fill="#6d6d6d" textLength="48.5" lengthAdjust="spacingAndGlyphs">2010</text>
<text x="405.8" y="378.4" text-anchor="middle" font-family="'Liberation Sans', Arial, sans-serif" font-size="26" fill="#6d6d6d" textLength="48.5" lengthAdjust="spacingAndGlyphs">2012</text>
<text x="485.0" y="378.4" text-anchor="middle" font-family="'Liberation Sans', Arial, sans-serif" font-size="26" fill="#6d6d6d" textLength="48.5" lengthAdjust="spacingAndGlyphs">2014</text>
<text x="564.2" y="378.4" text-anchor="middle" font-family="'Liberation Sans', Arial, sans-serif" font-size="26" fill="#6d6d6d" textLength="48.5" lengthAdjust="spacingAndGlyphs">2016</text>
<text x="643.3" y="378.4" text-anchor="middle" font-family="'Liberation Sans', Arial, sans-serif" font-size="26" fill="#6d6d6d" textLength="48.5" lengthAdjust="spacingAndGlyphs">2018</text>
<text x="722.5" y="378.4" text-anchor="middle" font-family="'Liberation Sans', Arial, sans-serif" font-size="26" fill="#6d6d6d" textLength="48.5" lengthAdjust="spacingAndGlyphs">2020</text>
<text x="801.6" y="378.4" text-anchor="middle" font-family="'Liberation Sans', Arial, sans-serif" font-size="26" fill="#6d6d6d" textLength="48.5" lengthAdjust="spacingAndGlyphs">2022</text>
<text x="882.6" y="378.4" text-anchor="middle" font-family="'Liberation Sans', Arial, sans-serif" font-size="26" fill="#6d6d6d" textLength="48.5" lengthAdjust="spacingAndGlyphs">2024</text>
<line x1="125.2" y1="442.6" x2="159.8" y2="442.6" stroke="#a31a1a" stroke-width="7.5" stroke-linecap="round"/>
<text x="193.2" y="450.8" font-family="'Liberation Sans', Arial, sans-serif" font-size="25" fill="#6d6d6d" textLength="68.0" lengthAdjust="spacingAndGlyphs">DIANA</text>
<line x1="323.8" y1="442.6" x2="358.6" y2="442.6" stroke="#7871b5" stroke-width="7.5" stroke-linecap="round"/>
<text x="392.0" y="450.8" font-family="'Liberation Sans', Arial, sans-serif" font-size="25" fill="#6d6d6d" textLength="43.2" lengthAdjust="spacingAndGlyphs">ROA</text>
<line x1="497.4" y1="442.6" x2="532.4" y2="442.6" stroke="#ef8a05" stroke-width="7.5" stroke-linecap="round"/>
<text x="566.0" y="450.8" font-family="'Liberation Sans', Arial, sans-serif" font-size="25" fill="#6d6d6d" textLength="123.8" lengthAdjust="spacingAndGlyphs">FLOR HUILA</text>
<line x1="751.8" y1="442.6" x2="787.2" y2="442.6" stroke="#79a52e" stroke-width="7.5" stroke-linecap="round"/>
<text x="820.4" y="450.8" font-family="'Liberation Sans', Arial, sans-serif" font-size="25" fill="#6d6d6d" textLength="79.4" lengthAdjust="spacingAndGlyphs">CARIBE</text>
</svg>
</body></html>
